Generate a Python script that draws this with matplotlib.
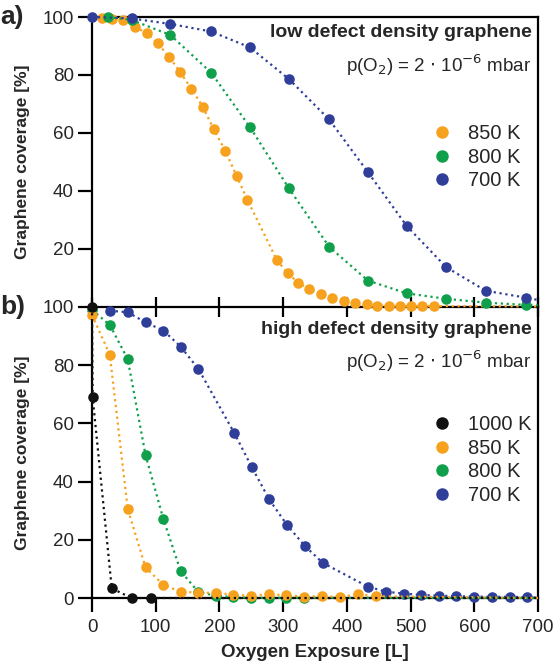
import numpy as np
import matplotlib.pyplot as plt
from matplotlib.lines import Line2D

plt.rcParams['font.family'] = ['Liberation Sans', 'DejaVu Sans']

# Цвета серий
c_black = '#111111'
c_orange = '#F6A21E'
c_green = '#10A04C'
c_blue = '#2F3F99'
c_text = '#262626'

# ---- a) low defect density graphene ----
a850_x = [15, 32, 49, 67, 86, 103, 121, 138, 156, 174, 191, 209, 227, 244, 290, 307,
          324, 341, 359, 377, 395, 413, 431, 448, 466, 483, 501, 518, 536]
a850_y = [99.5, 99.4, 99.0, 96.7, 94.4, 90.9, 86.3, 81.1, 75.2, 69.0, 61.3, 53.9, 45.2, 36.9,
          16.2, 11.6, 8.4, 6.1, 4.5, 3.2, 2.1, 1.3, 0.9, 0.5, 0.4, 0.3, 0.3, 0.3, 0.3]
a800_x = [25, 62, 123, 187, 248, 309, 372, 433, 494, 556, 618, 681]
a800_y = [100, 99.0, 93.8, 80.8, 62.0, 40.9, 20.8, 9.1, 4.7, 2.8, 1.5, 0.7]
a700_x = [0, 62, 123, 187, 248, 309, 372, 433, 494, 556, 618, 681]
a700_y = [100, 99.5, 97.6, 95.0, 89.5, 78.6, 64.7, 46.5, 27.9, 13.7, 5.6, 3.2]

# ---- b) high defect density graphene ----
b1000_x = [0, 1, 31, 62, 93]
b1000_y = [99.9, 69.0, 3.3, 0.0, 0.0]
b850_x = [0, 28, 56, 84, 112, 139, 167, 195, 222, 250, 278, 305, 333, 361, 389, 417, 445]
b850_y = [97.3, 83.5, 30.6, 10.5, 4.5, 2.2, 1.8, 1.8, 1.1, 0.8, 1.3, 0.9, 0.5, 0.6, 0.3, 1.3, 0.6]
b800_x = [0, 28, 56, 84, 112, 139, 167, 195, 222, 250, 278, 305, 333]
b800_y = [99.0, 93.8, 82.1, 49.1, 27.1, 9.3, 2.0, 0.8, 0.3, 0.1, 0.1, 0.1, 0.1]
b700_x = [28, 56, 84, 112, 139, 167, 223, 251, 278, 306, 334, 362, 433, 461, 489, 516,
          544, 572, 600, 628, 656, 683]
b700_y = [98.7, 98.2, 94.7, 91.9, 86.4, 78.7, 56.8, 44.9, 33.9, 25.1, 17.9, 12.1, 3.9, 2.2,
          1.5, 1.1, 0.8, 0.6, 0.5, 0.4, 0.4, 0.3]

# Хвосты аппроксимирующих кривых (до края оси)
tail_x = 700
a_tail = {'850': 0.2, '800': 0.5, '700': 2.4}
b_tail = {'1000': 0.0, '850': 0.0, '800': 0.0, '700': 0.1}

fig = plt.figure(figsize=(5.55, 6.72), dpi=100)
ax1 = fig.add_axes([0.1658, 0.5432, 0.8036, 0.4315])
ax2 = fig.add_axes([0.1658, 0.1101, 0.8036, 0.4331])

ms = 7.6
lw_fit = 1.6


def series(ax, xs, ys, tail, color, label, z):
    ax.plot(list(xs) + [tail_x], list(ys) + [tail], linestyle=':', color=color,
            lw=lw_fit, clip_on=False, zorder=z)
    ax.plot(xs, ys, 'o', color=color, ms=ms, mec='none', clip_on=False, zorder=z + 0.5)
    return Line2D([], [], marker='o', ls='none', color=color, ms=9, mec='none', label=label)


h1 = [series(ax1, a850_x, a850_y, a_tail['850'], c_orange, '850 K', 3),
      series(ax1, a800_x, a800_y, a_tail['800'], c_green, '800 K', 4),
      series(ax1, a700_x, a700_y, a_tail['700'], c_blue, '700 K', 5)]

h2 = [series(ax2, b1000_x, b1000_y, b_tail['1000'], c_black, '1000 K', 6),
      series(ax2, b850_x, b850_y, b_tail['850'], c_orange, '850 K', 5),
      series(ax2, b800_x, b800_y, b_tail['800'], c_green, '800 K', 4),
      series(ax2, b700_x, b700_y, b_tail['700'], c_blue, '700 K', 3)]

for ax in (ax1, ax2):
    ax.set_xlim(0, 700)
    ax.set_ylim(0, 100)
    ax.set_xticks(np.arange(0, 701, 100))
    ax.set_yticks(np.arange(0, 101, 20))
    for s in ax.spines.values():
        s.set_linewidth(1.6)
    ax.tick_params(axis='y', direction='out', length=10, width=1.6, labelsize=13.5, pad=3,
                   labelcolor=c_text)
    ax.set_ylabel('Graphene coverage [%]', fontsize=12.5, fontweight='bold', color=c_text)
    ax.yaxis.set_label_coords(-0.14, 0.5)
    ax.patch.set_alpha(0)

ax1.set_yticks([20, 40, 60, 80, 100])
ax1.tick_params(axis='x', direction='inout', length=14, width=1.6, labelbottom=False)
ax2.tick_params(axis='x', direction='out', length=10, width=1.6, labelsize=13.5, pad=5,
                labelcolor=c_text)
ax2.spines['top'].set_visible(False)
ax2.set_xlabel('Oxygen Exposure [L]', fontsize=13.5, fontweight='bold', labelpad=6,
               color=c_text)

# Подписи панелей
fig.text(0.0, 0.9747, 'a)', fontsize=19, fontweight='bold', va='center', color=c_text)
fig.text(0.0, 0.5432, 'b)', fontsize=19, fontweight='bold', va='center', color=c_text)

# Аннотации
ax1.text(0.986, 0.945, 'low defect density graphene', transform=ax1.transAxes,
         ha='right', va='center', fontsize=14, fontweight='bold', color=c_text)
ax1.text(0.986, 0.834, r'p(O$_2$) = 2 $\cdot$ 10$^{-6}$ mbar', transform=ax1.transAxes,
         ha='right', va='center', fontsize=13.5, color=c_text)
ax2.text(0.986, 0.921, 'high defect density graphene', transform=ax2.transAxes,
         ha='right', va='center', fontsize=14, fontweight='bold', color=c_text)
ax2.text(0.986, 0.815, r'p(O$_2$) = 2 $\cdot$ 10$^{-6}$ mbar', transform=ax2.transAxes,
         ha='right', va='center', fontsize=13.5, color=c_text)

leg_kw = dict(frameon=False, fontsize=14.5, handletextpad=0.7, labelspacing=0.22,
              handlelength=1.2, borderpad=0.4, labelcolor=c_text)
ax1.legend(handles=h1, loc='center left', bbox_to_anchor=(0.717, 0.517), **leg_kw)
ax2.legend(handles=h2, loc='center left', bbox_to_anchor=(0.717, 0.474), **leg_kw)

fig.savefig('out.png', dpi=100)
